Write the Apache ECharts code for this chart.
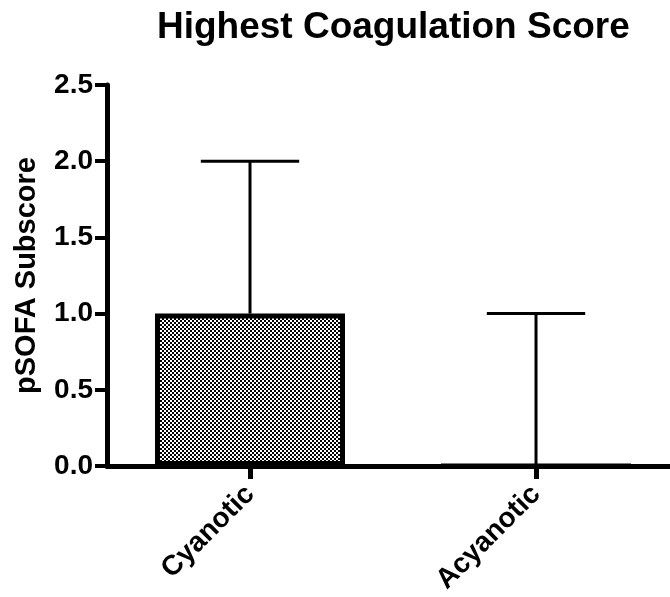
<!DOCTYPE html>
<html>
<head>
<meta charset="utf-8">
<script src="https://cdn.jsdelivr.net/npm/echarts@6/dist/echarts.min.js"></script>
<style>
  html, body { margin: 0; padding: 0; background: #fff; }
  #chart { width: 670px; height: 597px; }
</style>
</head>
<body>
<div id="chart"></div>
<script>
// Group labels and values
const categories = ['Cyanotic', 'Acyanotic'];
const medianValues = [1.0, 0.0];
const upperValues = [2.0, 1.0];
const yTicks = { min: 0, max: 2.5, interval: 0.5 };

const FONT = '"Liberation Sans", Arial, Helvetica, sans-serif';
const positions = categories.map((c, i) => i);

// Fine black/white checker fill for the bars
function checkerPattern() {
  const c = document.createElement('canvas');
  c.width = 4; c.height = 4;
  const ctx = c.getContext('2d');
  ctx.fillStyle = '#ffffff';
  ctx.fillRect(0, 0, 4, 4);
  ctx.fillStyle = '#000000';
  ctx.fillRect(0, 0, 2, 2);
  ctx.fillRect(2, 2, 2, 2);
  return c;
}

const chart = echarts.init(document.getElementById('chart'), null, { renderer: 'canvas' });

const option = {
  backgroundColor: '#ffffff',
  animation: false,
  title: {
    text: 'Highest Coagulation Score',
    left: 152,
    top: 4,
    textStyle: { fontFamily: FONT, fontWeight: 'bold', fontSize: 37, color: '#000' }
  },
  grid: { left: 107, top: 85, bottom: 131, right: 0, containLabel: false, outerBoundsMode: 'none' },
  xAxis: {
    // Category slots at 0 and 1; the axis runs off the right edge
    type: 'value',
    min: -0.5,
    max: 1.4685,
    axisLine: { show: true, onZero: false, lineStyle: { color: '#000', width: 5 } },
    axisTick: { show: true, customValues: positions, length: 13, lineStyle: { color: '#000', width: 5 } },
    axisLabel: {
      customValues: positions,
      formatter: v => categories[Math.round(v)] || '',
      rotate: 45, margin: 24, color: '#000',
      fontFamily: FONT, fontWeight: 'bold', fontSize: 28
    },
    splitLine: { show: false }
  },
  yAxis: {
    type: 'value',
    min: yTicks.min, max: yTicks.max, interval: yTicks.interval,
    name: 'pSOFA Subscore',
    nameLocation: 'middle',
    nameGap: 66,
    nameTextStyle: { fontFamily: FONT, fontWeight: 'bold', fontSize: 29, color: '#000' },
    axisLine: { show: true, onZero: false, lineStyle: { color: '#000', width: 5 } },
    axisTick: { show: true, length: 12, lineStyle: { color: '#000', width: 4 } },
    axisLabel: {
      margin: 14, color: '#000',
      fontFamily: FONT, fontWeight: 'bold', fontSize: 28,
      formatter: v => v.toFixed(1)
    },
    splitLine: { show: false }
  },
  series: [
    {
      type: 'bar',
      data: positions.map(i => [i, medianValues[i]]),
      barWidth: 190,
      itemStyle: {
        color: { image: checkerPattern(), repeat: 'repeat' },
        borderColor: '#000',
        borderWidth: 5
      },
      z: 2
    },
    {
      // Upper error whisker with a horizontal cap
      type: 'custom',
      data: positions.map(i => [i, medianValues[i], upperValues[i]]),
      renderItem: function (params, api) {
        const base = api.coord([api.value(0), api.value(1)]);
        const top = api.coord([api.value(0), api.value(2)]);
        const half = api.size([1, 0])[0] * 0.172;
        const style = { stroke: '#000', lineWidth: 3 };
        return {
          type: 'group',
          children: [
            { type: 'line', shape: { x1: base[0], y1: base[1], x2: top[0], y2: top[1] }, style },
            { type: 'line', shape: { x1: top[0] - half, y1: top[1], x2: top[0] + half, y2: top[1] }, style }
          ]
        };
      },
      z: 1
    }
  ]
};

chart.setOption(option);
</script>
</body>
</html>
